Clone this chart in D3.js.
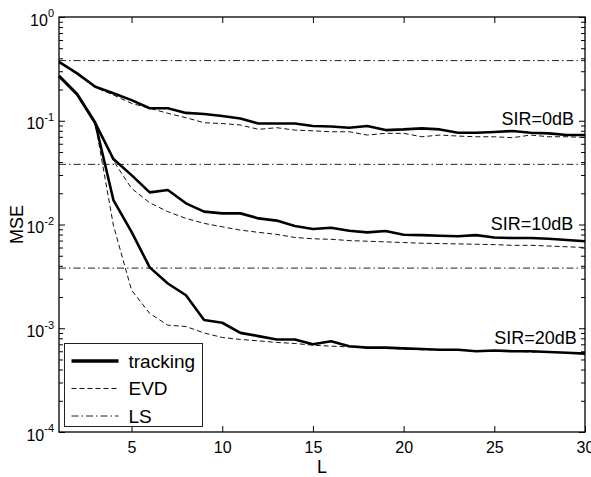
<!DOCTYPE html>
<html>
<head>
<meta charset="utf-8">
<script src="https://cdn.jsdelivr.net/npm/d3@7/dist/d3.min.js"></script>
<style>
  body { margin: 0; background: #fff; }
  svg { font-family: "Liberation Sans", Arial, Helvetica, sans-serif; }
  .tick line { stroke: #000; }
</style>
</head>
<body>
<svg id="chart" width="591" height="477"></svg>
<script>
/* global d3 */

// Block length L = 1..30
var L = d3.range(1, 31);

// MSE curves, one value per L
var sir0Tracking = [0.37, 0.286, 0.213, 0.184, 0.158, 0.132, 0.132, 0.119, 0.116, 0.111,
                    0.105, 0.094, 0.094, 0.094, 0.089, 0.088, 0.0857, 0.089, 0.0813, 0.0825,
                    0.0845, 0.0825, 0.0766, 0.0766, 0.078, 0.0796, 0.0766, 0.0756, 0.0728, 0.0728];
var sir0Evd      = [0.37, 0.28, 0.21, 0.177, 0.147, 0.132, 0.118, 0.107, 0.0957, 0.094,
                    0.091, 0.0826, 0.0857, 0.0813, 0.080, 0.0783, 0.0783, 0.0728, 0.0756, 0.0756,
                    0.0701, 0.0728, 0.0712, 0.0701, 0.0701, 0.0686, 0.0728, 0.0701, 0.0701, 0.069];
var sir10Tracking = [0.27, 0.18, 0.095, 0.0428, 0.0299, 0.0204, 0.0215, 0.016, 0.0133, 0.0128,
                     0.0128, 0.01145, 0.0109, 0.00966, 0.00904, 0.0093, 0.00869, 0.0084, 0.00865, 0.00796,
                     0.0079, 0.0078, 0.0077, 0.0079, 0.0075, 0.0074, 0.0074, 0.0073, 0.0071, 0.0069];
var sir10Evd      = [0.27, 0.18, 0.095, 0.041, 0.0223, 0.0162, 0.0133, 0.01145, 0.01025, 0.0095,
                     0.00883, 0.0084, 0.00803, 0.0075, 0.00728, 0.0072, 0.0070, 0.0069, 0.0068, 0.0067,
                     0.0066, 0.00655, 0.0065, 0.00645, 0.0064, 0.0063, 0.0063, 0.0062, 0.0061, 0.006];
var sir20Tracking = [0.27, 0.18, 0.095, 0.0172, 0.0085, 0.00386, 0.0027, 0.00208, 0.0012, 0.00113,
                     0.000903, 0.00084, 0.00078, 0.00078, 0.0007, 0.00075, 0.00067, 0.00065, 0.00065, 0.00064,
                     0.00063, 0.00062, 0.00062, 0.0006, 0.00061, 0.0006, 0.0006, 0.00059, 0.00058, 0.00057];
var sir20Evd      = [0.27, 0.18, 0.095, 0.0098, 0.00233, 0.00139, 0.00107, 0.00104, 0.0009, 0.000815,
                     0.00078, 0.000756, 0.00073, 0.000713, 0.000687, 0.000672, 0.000662, 0.00065, 0.00064, 0.00063,
                     0.00062, 0.00062, 0.00061, 0.00061, 0.0006, 0.0006, 0.00059, 0.00059, 0.00058, 0.00058];

// LS reference levels (flat over L)
var lsLevels = [0.38, 0.038, 0.0038];

// Axis ticks
var xTicks = [5, 10, 15, 20, 25, 30];
var yExponents = [-4, -3, -2, -1, 0];

// Curve annotations, anchored at their right end in data units
var curveLabels = ["SIR=0dB", "SIR=10dB", "SIR=20dB"];
var curveLabelL = [29.4, 29.35, 29.55];
var curveLabelMse = [0.091, 0.00883, 0.000703];

var legendNames = ["tracking", "EVD", "LS"];

var svg = d3.select("#chart")
  , margin = { left: 59, right: 6, top: 17, bottom: 45 }
  , width = 591 - margin.left - margin.right
  , height = 477 - margin.top - margin.bottom
  , x = d3.scaleLinear().domain([1, 30]).range([0, width])
  , y = d3.scaleLog().domain([1e-4, 1]).range([height, 0])
  , g = svg.append("g").attr("transform", "translate(" + margin.left + "," + margin.top + ")")
;

var styles = {
  tracking: { width: 2.6, dash: null, color: "#000" },
  evd:      { width: 1,   dash: "5,3", color: "#111" },
  ls:       { width: 1,   dash: "7,3,1.5,3", color: "#222" }
};

var line = d3.line()
    .x(function(d) { return x(d[0]); })
    .y(function(d) { return y(d[1]); })
;

// minor decade ticks 2..9 x 10^e
var minorTicks = [];
yExponents.slice(0, -1).forEach(function(e) {
  d3.range(2, 10).forEach(function(m) { minorTicks.push(m * Math.pow(10, e)); });
});
var majorTicks = yExponents.map(function(e) { return Math.pow(10, e); });

// y axis (left with labels, right ticks only)
var yLeft = g.append("g")
    .call(d3.axisLeft(y).tickValues(majorTicks).tickSize(-6).tickPadding(5).tickFormat(""));
yLeft.selectAll(".tick text").each(function(d) {
  var t = d3.select(this)
      .attr("font-size", 16)
      .attr("fill", "#000")
      .attr("dy", "0.5em");
  t.append("tspan").text("10");
  t.append("tspan").attr("font-size", 11).attr("dy", "-0.75em").text(Math.round(Math.log10(d)));
});
g.append("g").call(d3.axisLeft(y).tickValues(minorTicks).tickSize(-4).tickFormat(""));
g.append("g").attr("transform", "translate(" + width + ",0)")
    .call(d3.axisRight(y).tickValues(majorTicks).tickSize(-6).tickFormat(""));
g.append("g").attr("transform", "translate(" + width + ",0)")
    .call(d3.axisRight(y).tickValues(minorTicks).tickSize(-4).tickFormat(""));

// x axis (bottom with labels, top ticks only)
g.append("g").attr("transform", "translate(0," + height + ")")
    .call(d3.axisBottom(x).tickValues(xTicks).tickSize(-6).tickPadding(10))
  .selectAll("text")
    .attr("font-size", 16)
    .attr("fill", "#000");
g.append("g")
    .call(d3.axisTop(x).tickValues(xTicks).tickSize(-6).tickFormat(""));

g.selectAll(".domain").remove();

// LS reference lines
g.selectAll(".ls")
    .data(lsLevels)
  .enter().append("line")
    .attr("class", "ls")
    .attr("x1", x(1)).attr("x2", x(30))
    .attr("y1", function(d) { return y(d); })
    .attr("y2", function(d) { return y(d); })
    .attr("stroke", styles.ls.color)
    .attr("stroke-width", styles.ls.width)
    .attr("stroke-dasharray", styles.ls.dash);

// curves
var series = [
  { values: sir0Evd, s: styles.evd },
  { values: sir10Evd, s: styles.evd },
  { values: sir20Evd, s: styles.evd },
  { values: sir0Tracking, s: styles.tracking },
  { values: sir10Tracking, s: styles.tracking },
  { values: sir20Tracking, s: styles.tracking }
];
g.selectAll(".curve")
    .data(series)
  .enter().append("path")
    .attr("class", "curve")
    .attr("fill", "none")
    .attr("stroke", function(d) { return d.s.color; })
    .attr("stroke-width", function(d) { return d.s.width; })
    .attr("stroke-dasharray", function(d) { return d.s.dash; })
    .attr("stroke-linejoin", "round")
    .attr("d", function(d) { return line(d3.zip(L, d.values)); });

// SIR annotations
g.selectAll(".sir")
    .data(curveLabels)
  .enter().append("text")
    .attr("class", "sir")
    .attr("x", function(d, i) { return x(curveLabelL[i]); })
    .attr("y", function(d, i) { return y(curveLabelMse[i]); })
    .attr("text-anchor", "end")
    .attr("font-size", 18)
    .text(function(d) { return d; });

// frame
g.append("rect")
    .attr("width", width).attr("height", height)
    .attr("fill", "none").attr("stroke", "#000").attr("stroke-width", 1.3);

// legend
var legend = svg.append("g").attr("transform", "translate(64.5,343.5)");
legend.append("rect")
    .attr("width", 138).attr("height", 83)
    .attr("fill", "#fff").attr("stroke", "#222").attr("stroke-width", 1);
var legStyles = [styles.tracking, styles.evd, styles.ls];
var rows = legend.selectAll(".row")
    .data(legendNames)
  .enter().append("g")
    .attr("transform", function(d, i) { return "translate(0," + (17.5 + i * 27.5) + ")"; });
rows.append("line")
    .attr("x1", 7).attr("x2", 54)
    .attr("stroke", function(d, i) { return legStyles[i].color; })
    .attr("stroke-width", function(d, i) { return legStyles[i].width + (i === 0 ? 1 : 0); })
    .attr("stroke-dasharray", function(d, i) { return legStyles[i].dash; });
rows.append("text")
    .attr("x", 64).attr("dy", "0.35em")
    .attr("font-size", 19)
    .text(function(d) { return d; });

// axis titles
svg.append("text")
    .attr("transform", "translate(" + 23 + "," + (margin.top + height / 2) + ") rotate(-90)")
    .attr("text-anchor", "middle")
    .attr("font-size", 18)
    .text("MSE");
svg.append("text")
    .attr("x", margin.left + width / 2)
    .attr("y", 473)
    .attr("text-anchor", "middle")
    .attr("font-size", 18)
    .text("L");
</script>
</body>
</html>
